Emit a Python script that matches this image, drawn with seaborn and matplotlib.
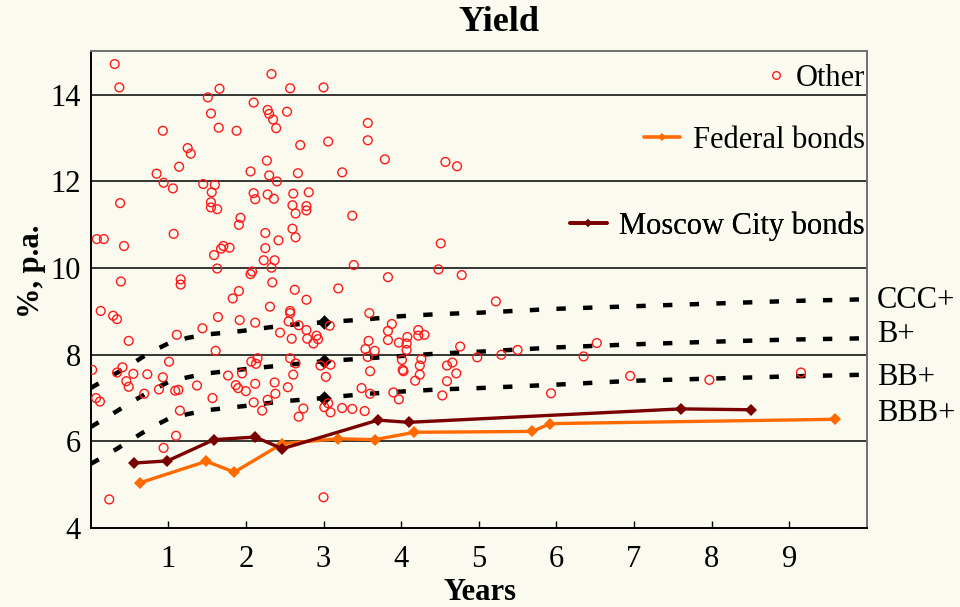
import matplotlib
matplotlib.use("Agg")
import matplotlib.pyplot as plt
import seaborn as sns
import numpy as np
import pandas as pd
from matplotlib.lines import Line2D

# --- data ---
other_years = [
    0.31, 0.37, 1.66, 1.51, 2.33, 2.57, 3.00, 2.10, 1.55, 2.28, 2.30, 2.35, 2.53, 2.39,
    0.93, 1.65, 1.88, 3.06, 2.70, 1.25, 1.29, 2.27, 1.14, 0.85, 2.06, 2.30, 2.67, 3.24,
    2.40, 0.94, 1.06, 1.45, 1.60, 1.56, 2.10, 2.28, 2.12, 2.36, 2.61, 2.81, 0.38, 1.55,
    1.55, 1.63, 2.60, 2.78, 2.78, 2.64, 1.93, 1.91, 2.60, 2.64, 0.08, 0.17, 1.07, 2.25,
    2.42, 0.43, 1.59, 1.68, 1.71, 1.79, 2.25, 2.23, 2.37, 1.63, 2.33, 0.39, 1.16, 1.16,
    2.06, 2.08, 2.34, 1.91, 1.83, 2.63, 2.78, 3.19, 2.31, 0.13, 2.57,
    3.57, 3.57, 3.79, 4.57, 4.72, 3.37, 4.51, 3.39, 4.48, 4.78, 3.83, 5.22,
    0.29, 0.34, 0.49, 1.11, 1.44, 1.64, 1.92, 2.12, 2.57, 2.55, 2.44, 2.59, 2.68, 2.78,
    2.79, 2.87, 2.91, 2.93, 3.08, 1.61, 0.02, 0.34, 0.41, 0.55, 0.73, 0.46, 0.49, 0.07,
    0.12, 0.69, 0.93, 1.01, 0.88, 1.09, 1.13, 1.37, 1.15, 1.57, 1.10, 0.94, 1.77, 1.95,
    1.87, 1.90, 2.00, 2.07, 2.13, 2.15, 2.12, 2.10, 2.28, 2.21, 2.38, 2.37, 2.54, 2.57,
    2.64, 2.61, 2.74, 2.68, 2.96, 3.09, 3.03, 3.01, 3.06, 3.09,
    3.59, 3.88, 3.83, 3.83, 4.22, 4.22, 4.30, 4.08, 4.07, 4.07, 3.97, 3.58, 3.54, 3.66,
    3.57, 3.60, 4.01, 4.02, 4.03, 4.26, 4.24, 4.24, 4.18, 4.59, 4.66, 4.71, 4.59, 4.53,
    4.76, 4.98, 5.29, 5.50, 3.49, 3.60, 3.90, 3.97, 3.24, 3.37, 3.53, 5.93,
    3.00, 0.24, 6.52, 6.35, 6.95, 7.97, 9.15,
]
other_yield = [
    14.71, 14.17, 14.14, 13.94, 14.48, 14.15, 14.17, 13.82, 13.57, 13.65, 13.56, 13.43, 13.61, 13.23,
    13.17, 13.24, 13.17, 12.92, 12.84, 12.77, 12.64, 12.48, 12.34, 12.18, 12.23, 12.14, 12.19, 12.21,
    12.00, 11.97, 11.84, 11.94, 11.92, 11.75, 11.73, 11.70, 11.59, 11.60, 11.72, 11.75, 11.50, 11.52,
    11.40, 11.36, 11.45, 11.43, 11.33, 11.26, 11.16, 11.00, 10.91, 10.71, 10.67, 10.67, 10.79, 10.81,
    10.64, 10.51, 10.30, 10.45, 10.51, 10.47, 10.46, 10.18, 10.18, 9.99, 10.01, 9.69, 9.74, 9.62,
    9.86, 9.92, 9.67, 9.47, 9.30, 9.50, 9.27, 9.53, 9.11, 9.01, 9.01,
    13.35, 12.95, 12.51, 12.45, 12.35, 11.21, 10.57, 10.07, 9.97, 9.84, 9.79, 9.23,
    8.90, 8.82, 8.32, 8.46, 8.61, 8.87, 8.80, 8.74, 8.96, 8.77, 8.51, 8.37, 8.68, 8.57,
    8.37, 8.26, 8.44, 8.36, 8.67, 8.09, 7.65, 7.59, 7.71, 7.56, 7.55, 7.39, 7.26, 7.00,
    6.92, 7.10, 7.48, 7.84, 7.20, 7.17, 7.19, 7.29, 6.71, 7.00, 6.13, 5.85, 7.52, 7.57,
    7.30, 7.23, 7.16, 7.84, 7.79, 7.92, 7.33, 6.90, 6.96, 6.71, 7.10, 7.36, 7.25, 7.92,
    7.80, 7.54, 6.76, 6.57, 7.75, 7.77, 7.49, 6.79, 6.88, 6.67,
    8.96, 8.71, 8.55, 8.34, 8.57, 8.44, 8.46, 8.41, 8.26, 8.11, 8.28, 8.32, 8.13, 8.09,
    7.95, 7.62, 7.88, 7.65, 7.62, 7.90, 7.75, 7.54, 7.40, 7.75, 7.82, 7.57, 7.39, 7.06,
    8.19, 7.94, 8.00, 8.11, 7.23, 7.10, 7.13, 6.97, 6.77, 6.75, 6.70, 7.11,
    4.71, 4.66, 8.27, 7.96, 7.51, 7.42, 7.59,
]

federal_years = [0.63, 1.49, 1.85, 2.47, 3.19, 3.66, 4.17, 5.69, 5.92, 9.59]
federal_yield = [5.04, 5.54, 5.29, 5.95, 6.06, 6.04, 6.21, 6.23, 6.41, 6.51]

moscow_years = [0.56, 0.99, 1.59, 2.12, 2.47, 3.70, 4.10, 7.60, 8.51]
moscow_yield = [5.50, 5.55, 6.04, 6.10, 5.83, 6.49, 6.44, 6.75, 6.73]

curve_years = [0, 0.25, 0.5, 0.75, 1, 1.25, 1.5, 1.75, 2, 2.5, 3, 3.5, 4, 4.5, 5, 6, 7, 8, 9, 10]
ccc_curve = [7.23, 7.49, 7.75, 8.04, 8.26, 8.39, 8.47, 8.51, 8.56, 8.68, 8.75, 8.81, 8.89, 8.94,
             8.97, 9.06, 9.12, 9.18, 9.24, 9.28]
b_curve = [6.33, 6.60, 6.88, 7.14, 7.37, 7.48, 7.57, 7.62, 7.67, 7.76, 7.85, 7.91, 7.97, 8.03,
           8.07, 8.17, 8.24, 8.30, 8.35, 8.38]
bb_curve = [5.48, 5.73, 6.01, 6.29, 6.52, 6.63, 6.72, 6.77, 6.82, 6.93, 7.00, 7.09, 7.15, 7.20,
            7.23, 7.31, 7.40, 7.45, 7.50, 7.54]

anchor_years = [3, 3, 3]
anchor_yield = [8.75, 7.85, 7.00]

rating_labels = ["CCC+", "B+", "BB+", "BBB+"]
rating_label_y = [9.26, 8.46, 7.47, 6.64]

bg = "#fafaef"
sns.set_theme(style="white")
plt.rcParams["font.family"] = ["Liberation Serif", "DejaVu Serif"]
plt.rcParams.update({
    "figure.facecolor": bg, "axes.facecolor": bg,
    "text.color": "black", "axes.labelcolor": "black",
    "xtick.color": "black", "ytick.color": "black",
})

fig, ax = plt.subplots(figsize=(9.6, 6.07), dpi=100)
fig.subplots_adjust(left=0.0944, right=0.9031, bottom=0.1301, top=0.9152)

for yv in [6, 8, 10, 12, 14]:
    ax.axhline(yv, color="black", lw=1.1, zorder=0)

for curve in (ccc_curve, b_curve, bb_curve):
    sns.lineplot(x=curve_years, y=curve, ax=ax, color="black", lw=3.2,
                 linestyle=(0, (2.1, 3.9)), zorder=2)
sns.scatterplot(x=anchor_years, y=anchor_yield, ax=ax, marker="D", s=55,
                color="black", edgecolor="black", linewidth=0, zorder=3)

sns.scatterplot(x=other_years, y=other_yield, ax=ax, s=40, marker="o",
                facecolor="none", edgecolor="#ff1a1a", linewidth=1.0, zorder=4,
                legend=False)
sns.lineplot(x=federal_years, y=federal_yield, ax=ax, color="#ff6a00", lw=2.4,
             marker="D", markersize=6, markeredgewidth=0, zorder=5)
sns.lineplot(x=moscow_years, y=moscow_yield, ax=ax, color="#7a0000", lw=2.4,
             marker="D", markersize=6, markeredgewidth=0, zorder=5)

ax.set_xlim(0, 10)
ax.set_ylim(4, 15)
ax.set_xticks(range(1, 10))
ax.set_yticks([4, 6, 8, 10, 12, 14])
ax.tick_params(axis="x", direction="in", length=5, width=1, color="black",
               labelsize=22, pad=12, bottom=True)
ax.tick_params(axis="y", length=0, labelsize=22, pad=7)

for side in ("left", "bottom"):
    ax.spines[side].set_color("black")
    ax.spines[side].set_linewidth(1.4)
for side in ("top", "right"):
    ax.spines[side].set_color("#707070")
    ax.spines[side].set_linewidth(1.4)

ax.set_xlabel("Years", fontsize=22, fontweight="bold")
ax.set_ylabel("%, p.a.", fontsize=22, fontweight="bold")
ax.xaxis.set_label_coords(0.5015, -0.104)
ax.yaxis.set_label_coords(-0.057, 0.539)
fig.text(0.52, 0.963, "Yield", fontsize=26, fontweight="bold", ha="center", va="center")

trans = matplotlib.transforms.blended_transform_factory(ax.transAxes, ax.transData)
for lab, yv in zip(rating_labels, rating_label_y):
    ax.text(1.013, yv, lab, transform=trans, fontsize=22, va="center", ha="left",
            clip_on=False)

# legend entries, each anchored on its own row
entries = [
    (Line2D([], [], ls="none", marker="o", ms=5.5, mfc="none", mec="#ff1a1a", mew=1.0),
     "Other", 0.943, 0.5),
    (Line2D([], [], color="#ff6a00", lw=2.6, marker="D", ms=4.5, mew=0),
     "Federal bonds", 0.813, 1.2),
    (Line2D([], [], color="#7a0000", lw=2.6, marker="D", ms=4.5, mew=0),
     "Moscow City bonds", 0.634, 1.2),
]
for handle, text, ypos, hl in entries:
    leg = ax.legend(handles=[handle], labels=[text], loc="center right",
                    bbox_to_anchor=(0.997, ypos), frameon=False, fontsize=22,
                    handlelength=hl, handletextpad=0.4, borderpad=0, borderaxespad=0)
    ax.add_artist(leg)

fig.savefig("out.png", dpi=100, facecolor=bg)
